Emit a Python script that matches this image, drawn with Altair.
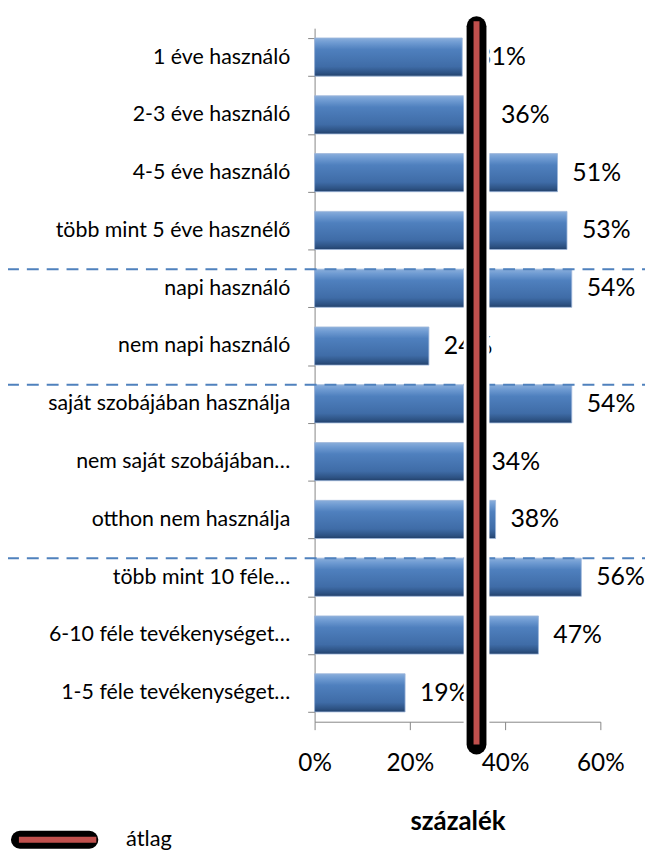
import altair as alt
import pandas as pd

categories = ["1 éve használó", "2-3 éve használó", "4-5 éve használó", "több mint 5 éve hasznélő",
              "napi használó", "nem napi használó", "saját szobájában használja", "nem saját szobájában…",
              "otthon nem használja", "több mint 10 féle…", "6-10 féle tevékenységet…", "1-5 féle tevékenységet…"]
values = [31, 36, 51, 53, 54, 24, 54, 34, 38, 56, 47, 19]
average = [34]
group_starts = ["napi használó", "saját szobájában használja", "több mint 10 féle…"]
x_ticks = [0, 20, 40, 60]
legend_label = ["átlag"]

W, H = 288, 699
FONT = "Lato"

df = pd.DataFrame({"cat": categories, "val": values})
avg_df = pd.DataFrame({"avg": average})
sep_df = pd.DataFrame({"cat": group_starts})
leg_df = pd.DataFrame({"lbl": legend_label})

y_scale = alt.Scale(domain=categories, paddingInner=0.34, paddingOuter=0.17)
x_scale = alt.Scale(domain=[0, 60], nice=False)

y_enc = alt.Y("cat:N", scale=y_scale, sort=None,
              axis=alt.Axis(title=None, labelFont=FONT, labelFontSize=21.5, labelColor="black",
                            labelPadding=18, tickSize=7, tickColor="#868686", domainColor="#868686",
                            labelLimit=400, tickBand="extent"))
x_enc = alt.X("val:Q", scale=x_scale,
              axis=alt.Axis(values=x_ticks, labelExpr="datum.value + '%'", grid=False, labelFlush=False,
                            title="százalék", titleFont=FONT, titleFontSize=26, titleFontWeight="bold",
                            titleColor="black", titlePadding=34,
                            labelFont=FONT, labelFontSize=24.5, labelColor="black", labelPadding=22,
                            tickSize=8, tickColor="#868686", domainColor="#868686"))

grad = alt.Gradient(gradient="linear", x1=0, y1=0, x2=0, y2=1, stops=[
    alt.GradientStop(offset=0, color="#8aaedb"),
    alt.GradientStop(offset=0.12, color="#6f9bd2"),
    alt.GradientStop(offset=0.3, color="#4f80be"),
    alt.GradientStop(offset=0.75, color="#3f6ca7"),
    alt.GradientStop(offset=0.92, color="#2d5283"),
    alt.GradientStop(offset=1, color="#22406a"),
])

bars = alt.Chart(df).mark_bar(color=grad, stroke="#9cb6da", strokeWidth=0.8).encode(x=x_enc, y=y_enc)

labels = alt.Chart(df).transform_calculate(lbl="datum.val + '%'").mark_text(
    align="left", baseline="middle", dx=15, font=FONT, fontSize=25, color="black"
).encode(x=alt.X("val:Q", scale=x_scale), y=alt.Y("cat:N", scale=y_scale, sort=None), text="lbl:N")

seps = alt.Chart(sep_df).mark_rule(color="#4f81bd", strokeWidth=2, strokeDash=[12, 8]).encode(
    y=alt.Y("cat:N", scale=y_scale, sort=None, bandPosition=0),
    x=alt.value(-310), x2=alt.value(W + 50))

avg_white = alt.Chart(avg_df).mark_rule(color="white", strokeWidth=26, strokeCap="round").encode(
    x=alt.X("avg:Q", scale=x_scale), y=alt.value(-2), y2=alt.value(722))
avg_black = alt.Chart(avg_df).mark_rule(color="black", strokeWidth=20, strokeCap="round").encode(
    x=alt.X("avg:Q", scale=x_scale), y=alt.value(-2), y2=alt.value(722))
avg_red = alt.Chart(avg_df).mark_rule(color="#c0504d", strokeWidth=6, strokeCap="butt").encode(
    x=alt.X("avg:Q", scale=x_scale), y=alt.value(-7), y2=alt.value(722))

leg_black = alt.Chart(leg_df).mark_rule(color="black", strokeWidth=18, strokeCap="round").encode(
    x=alt.value(-297), x2=alt.value(-227), y=alt.value(818))
leg_red = alt.Chart(leg_df).mark_rule(color="#c0504d", strokeWidth=6).encode(
    x=alt.value(-298), x2=alt.value(-220), y=alt.value(818))
leg_text = alt.Chart(leg_df).mark_text(align="left", baseline="middle", font=FONT, fontSize=22,
                                       color="black").encode(
    x=alt.value(-190), y=alt.value(817), text="lbl:N")

chart = alt.layer(bars, labels, seps, avg_white, avg_black, avg_red, leg_black, leg_red, leg_text).properties(
    width=W, height=H,
    autosize=alt.AutoSizeParams(type="none"),
    padding={"left": 309, "top": 17, "right": 45, "bottom": 130},
).configure_view(stroke=None)

chart.save("out.html", embed_options={"renderer": "svg", "actions": False})
